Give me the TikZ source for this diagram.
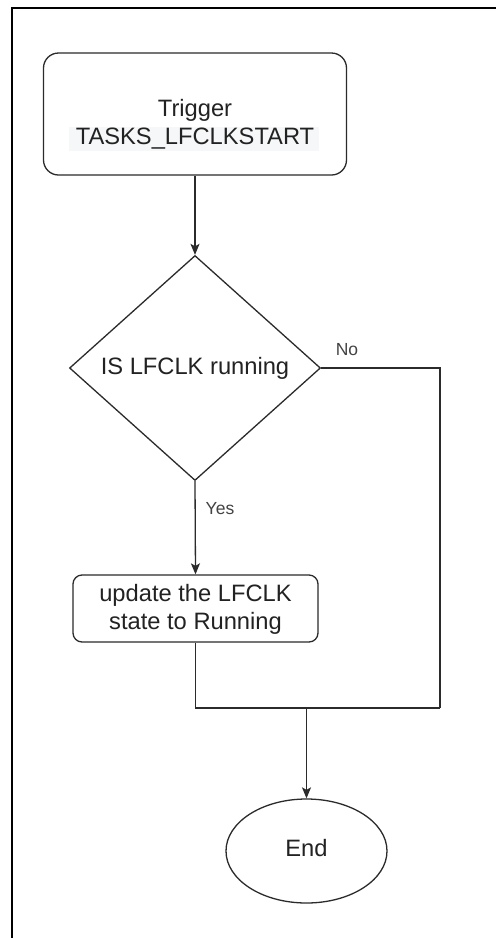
\documentclass[tikz,border=0pt]{standalone}
\usepackage{fontspec}
\setmainfont{Liberation Sans}
\usetikzlibrary{shapes.geometric,arrows.meta}

\definecolor{ink}{HTML}{222222}
\definecolor{edge}{HTML}{2B2B2B}
\definecolor{hilite}{HTML}{F6F7F8}

\tikzset{
  box/.style={draw=edge, line width=1.3pt, rectangle, inner sep=0pt},
  txt/.style={text=ink, align=center, font=\fontsize{23.7}{28}\selectfont, inner sep=0pt},
  lbl/.style={text=ink!85, font=\fontsize{17.5}{20}\selectfont, inner sep=0pt},
  flow/.style={draw=edge, line width=1.3pt},
  arr/.style={flow, -{Stealth[length=11pt,width=9pt,inset=2.5pt]}},
}

\begin{document}
\begin{tikzpicture}[x=1pt,y=-1pt]
  % page area and white background
  \useasboundingbox (0,0) rectangle (496,938);
  \fill[white] (0,0) rectangle (496,938);

  % outer frame: left and top edges only
  \draw[line width=2pt, black] (11.5,938) -- (11.5,7.5) -- (496,7.5);

  % start block
  \node[box, rounded corners=15pt, minimum width=303pt, minimum height=122pt] (start) at (195,114) {};
  \fill[hilite] (69,127) rectangle (319,151);
  \node[txt] (starttxt) at (195,124) {Trigger\\TASKS\_LFCLKSTART};

  % decision
  \node[box, diamond, minimum width=251pt, minimum height=225pt] (dec) at (195,368) {};
  \node[txt] (dectxt) at (195,368) {IS LFCLK running};

  % update block
  \node[box, rounded corners=9pt, minimum width=245pt, minimum height=67pt] (upd) at (195.5,608.5) {};
  \node[txt] (updtxt) at (195.5,609) {update the LFCLK\\state to Running};

  % end terminator
  \node[box, ellipse, minimum width=161pt, minimum height=104pt] (fin) at (306.5,851) {};
  \node[txt] (fintxt) at (306.5,848) {End};

  % routing points
  \coordinate (nr) at (440,368);
  \coordinate (mr) at (440,708);
  \coordinate (ml) at (195.5,708);
  \coordinate (mj) at (306.5,708);

  % connectors
  \draw[arr] (start.south) -- (dec.north);
  \draw[arr] (dec.south) -- (upd.north);
  \draw[flow] (dec.east) -- (nr) -- (mr);
  \draw[flow] (upd.south) -- (ml) -- (mr);
  \draw[arr] (mj) -- (fin.north);

  % branch labels
  \node[lbl] (yes) at (220,509) {Yes};
  \node[lbl] (no) at (347,350) {No};
\end{tikzpicture}
\end{document}
